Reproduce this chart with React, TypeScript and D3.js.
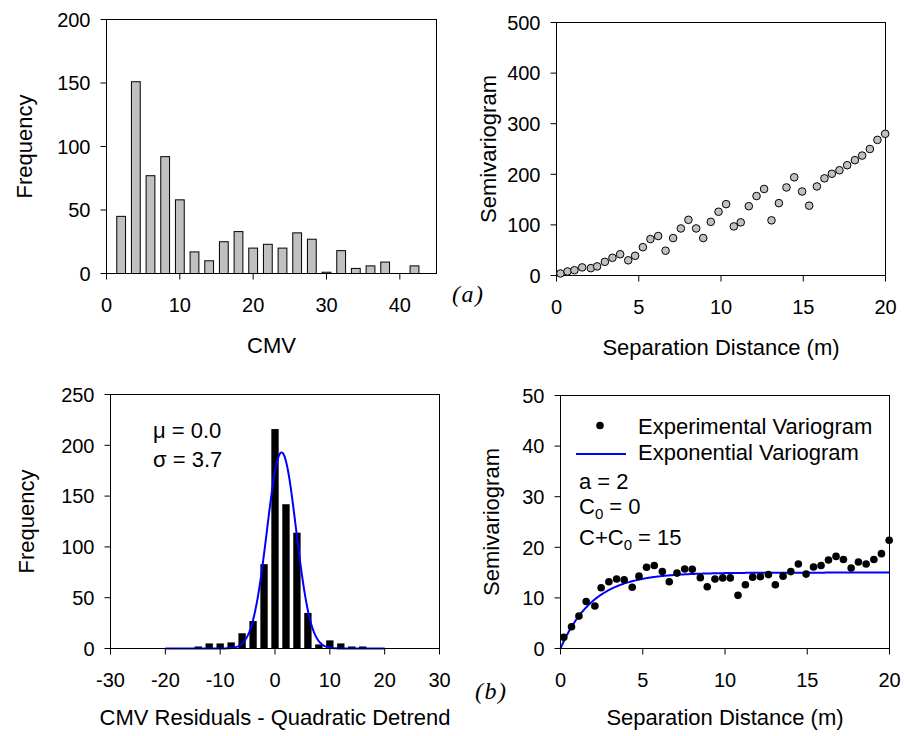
import React from "react";
import * as d3 from "d3";

// ---- (a) CMV histogram ----
const cmvBinCenters = [2, 4, 6, 8, 10, 12, 14, 16, 18, 20, 22, 24, 26, 28, 30, 32, 34, 36, 38, 40, 42];
const cmvFrequency = [45, 151, 77, 92, 58, 17, 10, 25, 33, 20, 23, 20, 32, 27, 1, 18, 4, 6, 9, 0, 6];
const cmvTicks = [0, 10, 20, 30, 40];
const cmvFreqTicks = [0, 50, 100, 150, 200];

// ---- (a) raw CMV semivariogram ----
const lagA = [0.24, 0.67, 1.09, 1.56, 2.09, 2.47, 2.94, 3.4, 3.87, 4.36, 4.78, 5.25, 5.71, 6.18, 6.63, 7.09, 7.56, 8.02, 8.49, 8.92, 9.38, 9.85, 10.31, 10.78, 11.2, 11.69, 12.16, 12.62, 13.07, 13.52, 13.98, 14.45, 14.93, 15.36, 15.83, 16.29, 16.74, 17.2, 17.67, 18.14, 18.58, 19.05, 19.51, 19.98];
const gammaA = [4, 8, 10.5, 16, 14.5, 18, 27, 35, 42, 30, 39, 56, 72, 78, 49, 74, 93, 110, 93, 74, 106, 126, 141, 97, 105, 137, 157, 171, 109, 143, 174, 194, 166, 138, 176, 192, 201, 208, 218, 228, 237, 250, 268, 280];
const distTicks = [0, 5, 10, 15, 20];
const gammaTicksA = [0, 100, 200, 300, 400, 500];

// ---- (b) residual histogram ----
const residBinCenters = [-14, -12, -10, -8, -6, -4, -2, 0, 2, 4, 6, 8, 10, 12, 14, 16];
const residFrequency = [2, 5, 5, 6, 15, 27, 83, 216, 142, 114, 35, 4, 8, 5, 2, 2];
const residTicks = [-30, -20, -10, 0, 10, 20, 30];
const residFreqTicks = [0, 50, 100, 150, 200, 250];
const residMeanLabel = "0.0";
const residSdLabel = "3.7";
// fitted normal curve drawn over the histogram
const normalFitCenter = 1.2;
const normalFitSd = 2.65;
const normalFitPeak = 193;
const normalFitSpan = [-20, 20];

// ---- (b) residual semivariogram ----
const lagB = [0.2, 0.67, 1.12, 1.56, 2.09, 2.47, 2.94, 3.41, 3.87, 4.36, 4.77, 5.23, 5.7, 6.19, 6.61, 7.08, 7.55, 8.01, 8.5, 8.92, 9.39, 9.86, 10.32, 10.79, 11.24, 11.68, 12.15, 12.64, 13.06, 13.53, 14.0, 14.46, 14.93, 15.38, 15.84, 16.29, 16.75, 17.2, 17.67, 18.11, 18.58, 19.05, 19.51, 19.98];
const gammaB = [2.2, 4.3, 6.4, 9.3, 8.4, 12.0, 13.2, 13.75, 13.6, 12.1, 14.3, 16.05, 16.4, 15.2, 13.2, 14.9, 15.7, 15.65, 14.0, 12.2, 13.75, 13.95, 13.95, 10.5, 12.6, 14.1, 14.2, 14.6, 12.6, 14.3, 15.2, 16.7, 14.7, 16.1, 16.4, 17.5, 18.2, 17.6, 15.9, 17.1, 16.7, 17.6, 18.75, 21.4];
const gammaTicksB = [0, 10, 20, 30, 40, 50];
// exponential model parameters
const expRange = 2;
const expNugget = 0;
const expSill = 15;

const FONT = "'Liberation Sans', Arial, Helvetica, sans-serif";
const SERIF = "'Liberation Serif', 'Times New Roman', serif";
const TICK_FS = 20;
const TITLE_FS = 22;

type Box = { x0: number; x1: number; y0: number; y1: number };

function Axes({
  box,
  xs,
  ys,
  xTicks,
  yTicks,
  xTitle,
  yTitle,
  xTitleY,
  yTitleX,
}: {
  box: Box;
  xs: d3.ScaleLinear<number, number>;
  ys: d3.ScaleLinear<number, number>;
  xTicks: number[];
  yTicks: number[];
  xTitle: string;
  yTitle: string;
  xTitleY: number;
  yTitleX: number;
}) {
  const { x0, x1, y0, y1 } = box;
  const cy = (y0 + y1) / 2;
  const cx = (x0 + x1) / 2;
  return (
    <g fontFamily={FONT} fill="#000">
      <rect x={x0} y={y0} width={x1 - x0} height={y1 - y0} fill="none" stroke="#000" strokeWidth={1} />
      {xTicks.map((t) => (
        <g key={"x" + t}>
          <line x1={xs(t)} x2={xs(t)} y1={y1} y2={y1 + 6} stroke="#000" strokeWidth={1} />
          <text x={xs(t)} y={y1 + 38} fontSize={TICK_FS} textAnchor="middle">
            {t}
          </text>
        </g>
      ))}
      {yTicks.map((t) => (
        <g key={"y" + t}>
          <line x1={x0 - 6} x2={x0} y1={ys(t)} y2={ys(t)} stroke="#000" strokeWidth={1} />
          <text x={x0 - 16} y={ys(t)} dy="0.36em" fontSize={TICK_FS} textAnchor="end">
            {t}
          </text>
        </g>
      ))}
      <text x={cx} y={xTitleY} fontSize={TITLE_FS} textAnchor="middle">
        {xTitle}
      </text>
      <text
        transform={`translate(${yTitleX},${cy}) rotate(-90)`}
        fontSize={TITLE_FS}
        textAnchor="middle"
      >
        {yTitle}
      </text>
    </g>
  );
}

export default function App() {
  // panel boxes
  const boxTL: Box = { x0: 106.5, x1: 436.5, y0: 19.5, y1: 273.5 };
  const boxTR: Box = { x0: 556.5, x1: 885.5, y0: 22.5, y1: 275.5 };
  const boxBL: Box = { x0: 110.5, x1: 439.5, y0: 394.5, y1: 648.5 };
  const boxBR: Box = { x0: 560.5, x1: 889.5, y0: 395.5, y1: 648.5 };

  // (a) histogram
  const xTL = d3.scaleLinear().domain([0, 45]).range([boxTL.x0, boxTL.x1]);
  const yTL = d3.scaleLinear().domain([0, 200]).range([boxTL.y1, boxTL.y0]);
  const binWTL = xTL(2) - xTL(0);
  const barWTL = binWTL * 0.6;

  // (a) semivariogram
  const xTR = d3.scaleLinear().domain([0, 20]).range([boxTR.x0, boxTR.x1]);
  const yTR = d3.scaleLinear().domain([0, 500]).range([boxTR.y1, boxTR.y0]);

  // (b) histogram
  const xBL = d3.scaleLinear().domain([-30, 30]).range([boxBL.x0, boxBL.x1]);
  const yBL = d3.scaleLinear().domain([0, 250]).range([boxBL.y1, boxBL.y0]);
  const binWBL = xBL(2) - xBL(0);
  const barWBL = binWBL * 0.67;
  const normalPts = d3
    .range(normalFitSpan[0], normalFitSpan[1] + 0.001, 0.1)
    .map((x) => [x, normalFitPeak * Math.exp(-((x - normalFitCenter) ** 2) / (2 * normalFitSd ** 2))] as [number, number]);
  const normalPath = d3
    .line<[number, number]>()
    .x((d) => xBL(d[0]))
    .y((d) => yBL(d[1]))(normalPts);

  // (b) semivariogram
  const xBR = d3.scaleLinear().domain([0, 20]).range([boxBR.x0, boxBR.x1]);
  const yBR = d3.scaleLinear().domain([0, 50]).range([boxBR.y1, boxBR.y0]);
  const expPts = d3
    .range(0, 20.001, 0.05)
    .map((h) => [h, expNugget + (expSill - expNugget) * (1 - Math.exp(-h / expRange))] as [number, number]);
  const expPath = d3
    .line<[number, number]>()
    .x((d) => xBR(d[0]))
    .y((d) => yBR(d[1]))(expPts);

  return (
    <svg
      width={904}
      height={736}
      viewBox="0 0 904 736"
      style={{ position: "absolute", left: 0, top: 0, background: "#fff" }}
    >
      <rect width={904} height={736} fill="#fff" />

      {/* (a) CMV histogram */}
      {cmvBinCenters.map((c, i) =>
        cmvFrequency[i] > 0 ? (
          <rect
            key={"cb" + i}
            x={xTL(c) - barWTL / 2}
            y={yTL(cmvFrequency[i])}
            width={barWTL}
            height={yTL(0) - yTL(cmvFrequency[i])}
            fill="#c0c0c0"
            stroke="#000"
            strokeWidth={1}
          />
        ) : null
      )}
      <Axes
        box={boxTL}
        xs={xTL}
        ys={yTL}
        xTicks={cmvTicks}
        yTicks={cmvFreqTicks}
        xTitle="CMV"
        yTitle="Frequency"
        xTitleY={353}
        yTitleX={32}
      />

      {/* (a) semivariogram */}
      <Axes
        box={boxTR}
        xs={xTR}
        ys={yTR}
        xTicks={distTicks}
        yTicks={gammaTicksA}
        xTitle="Separation Distance (m)"
        yTitle="Semivariogram"
        xTitleY={355}
        yTitleX={496}
      />
      {lagA.map((h, i) => (
        <circle key={"pa" + i} cx={xTR(h)} cy={yTR(gammaA[i])} r={3.8} fill="#c0c0c0" stroke="#000" strokeWidth={1} />
      ))}

      {/* (b) residual histogram */}
      {residBinCenters.map((c, i) => (
        <rect
          key={"rb" + i}
          x={xBL(c) - barWBL / 2}
          y={yBL(residFrequency[i])}
          width={barWBL}
          height={yBL(0) - yBL(residFrequency[i])}
          fill="#000"
        />
      ))}
      <path d={normalPath ?? ""} fill="none" stroke="#0000ff" strokeWidth={2} />
      <Axes
        box={boxBL}
        xs={xBL}
        ys={yBL}
        xTicks={residTicks}
        yTicks={residFreqTicks}
        xTitle="CMV Residuals - Quadratic Detrend"
        yTitle="Frequency"
        xTitleY={725}
        yTitleX={34}
      />
      <g fontFamily={FONT} fontSize={TITLE_FS}>
        <text x={153} y={438}>{`\u03bc = ${residMeanLabel}`}</text>
        <text x={153} y={467}>{`\u03c3 = ${residSdLabel}`}</text>
      </g>

      {/* (b) residual semivariogram */}
      <path d={expPath ?? ""} fill="none" stroke="#0000ff" strokeWidth={2} />
      {lagB.map((h, i) => (
        <circle key={"pb" + i} cx={xBR(h)} cy={yBR(gammaB[i])} r={3.8} fill="#000" />
      ))}
      <Axes
        box={boxBR}
        xs={xBR}
        ys={yBR}
        xTicks={distTicks}
        yTicks={gammaTicksB}
        xTitle="Separation Distance (m)"
        yTitle="Semivariogram"
        xTitleY={725}
        yTitleX={499}
      />
      <g fontFamily={FONT} fontSize={TITLE_FS}>
        <circle cx={600} cy={425.5} r={3.8} fill="#000" />
        <text x={638} y={434}>Experimental Variogram</text>
        <line x1={576} x2={626} y1={454} y2={454} stroke="#0000ff" strokeWidth={2} />
        <text x={638} y={460}>Exponential Variogram</text>
        <text x={579} y={489}>{`a = ${expRange}`}</text>
        <text x={579} y={514}>
          C<tspan fontSize={15} dy={5}>0</tspan>
          <tspan dy={-5}>{` = ${expNugget}`}</tspan>
        </text>
        <text x={579} y={545}>
          C+C<tspan fontSize={15} dy={5}>0</tspan>
          <tspan dy={-5}>{` = ${expSill}`}</tspan>
        </text>
      </g>

      {/* panel tags */}
      <g fontFamily={SERIF} fontStyle="italic" fontSize={24} letterSpacing={1.5}>
        <text x={452} y={302}>(a)</text>
        <text x={475} y={699}>(b)</text>
      </g>
    </svg>
  );
}
